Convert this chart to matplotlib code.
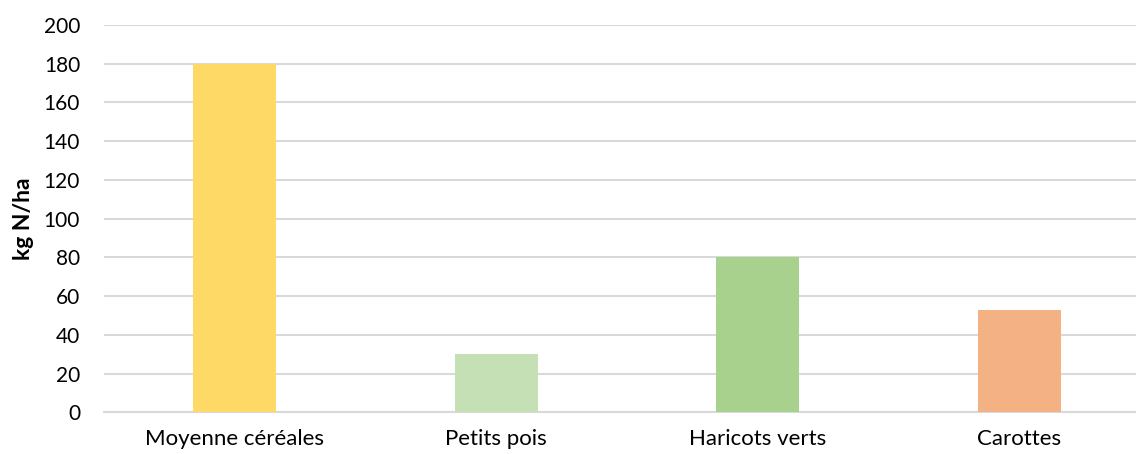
import matplotlib
matplotlib.use("Agg")
import matplotlib.pyplot as plt

categories = ["Moyenne céréales", "Petits pois", "Haricots verts", "Carottes"]
values = [180, 30, 80, 53]
colors = ["#FFD966", "#C5E0B4", "#A9D18E", "#F4B183"]
yticks = list(range(0, 201, 20))
ylabel = "kg N/ha"

plt.rcParams['font.family'] = ['Lato', 'DejaVu Sans']

fig = plt.figure(figsize=(11.36, 4.54), dpi=100)
left = 103.7 / 1136
right = 1150 / 1136
bottom = (454 - 412.3) / 454
top = (454 - 25) / 454
ax = fig.add_axes([left, bottom, right - left, top - bottom])

x = list(range(len(categories)))
ax.bar(x, values, width=0.317, color=colors, zorder=3)
ax.set_xlim(-0.5, len(categories) - 0.5)
ax.set_ylim(0, 200)
ax.set_yticks(yticks)
ax.set_xticks(x)
ax.set_xticklabels(categories, fontsize=16)
ax.tick_params(axis='y', labelsize=15, length=0, pad=17)
ax.tick_params(axis='x', length=0, pad=12)
ax.grid(axis='y', color='#D9D9D9', linewidth=1.5, zorder=0)
for s in ['top', 'right', 'left']:
    ax.spines[s].set_visible(False)
ax.spines['bottom'].set_color('#D9D9D9')
ax.spines['bottom'].set_linewidth(1.5)
ax.set_ylabel(ylabel, fontsize=16.5, fontweight='bold')
ax.yaxis.set_label_coords(-(103.7 - 34) / (1150 - 103.7), 0.5)

fig.savefig("out.png", dpi=100)
